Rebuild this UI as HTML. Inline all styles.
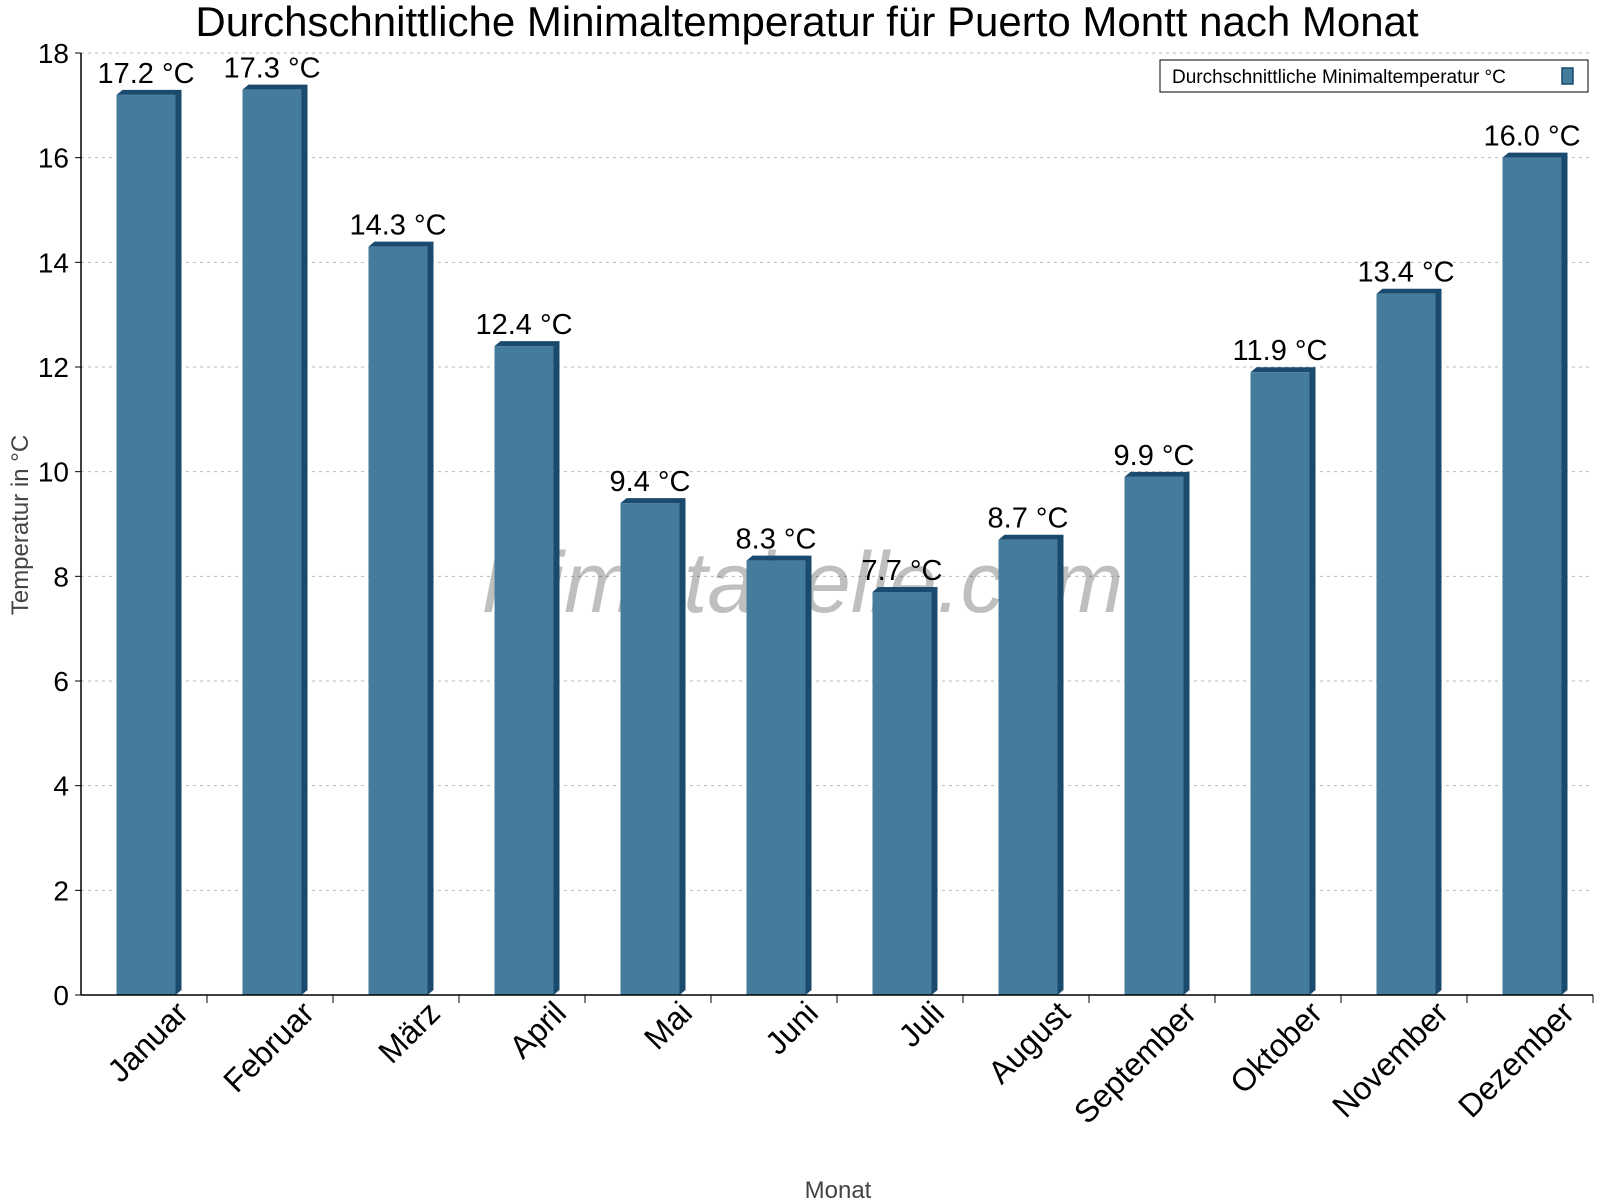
<!DOCTYPE html>
<html><head><meta charset="utf-8"><style>body{margin:0;background:#fff}svg{display:block;font-family:"Liberation Sans",Arial,sans-serif}</style></head>
<body>
<svg id="chart" width="1600" height="1200" viewBox="0 0 1600 1200" xmlns="http://www.w3.org/2000/svg">
<text x="807" y="36" font-size="42" text-anchor="middle" fill="#000">Durchschnittliche Minimaltemperatur für Puerto Montt nach Monat</text>
<g id="grid"></g>
<text x="803" y="612" font-size="86" font-style="italic" text-anchor="middle" fill="#000" fill-opacity="0.25">klimatabelle.com</text>
<g id="bars"></g>
<g id="axes"></g>
<text transform="translate(28,525) rotate(-90)" font-size="24" text-anchor="middle" fill="#444">Temperatur in °C</text>
<text x="838" y="1198" font-size="24" text-anchor="middle" fill="#444">Monat</text>
<g>
<rect x="1160" y="60" width="428" height="32" fill="#fff" stroke="#000" stroke-width="1"/>
<text x="1172" y="83" font-size="19" fill="#000">Durchschnittliche Minimaltemperatur °C</text>
<rect x="1562" y="68" width="11" height="16" fill="#457b9d" stroke="#1a4a6e" stroke-width="1.5"/>
</g>
</svg>
<script>
const categories=["Januar","Februar","März","April","Mai","Juni","Juli","August","September","Oktober","November","Dezember"];
const values=[17.2,17.3,14.3,12.4,9.4,8.3,7.7,8.7,9.9,11.9,13.4,16.0];
const yTicks=[0,2,4,6,8,10,12,14,16,18];
const NS="http://www.w3.org/2000/svg";
const X0=81,X1=1593,Y0=995,Y1=53,YMAX=18;
const cw=(X1-X0)/categories.length;
const y=v=>Y0-(v/YMAX)*(Y0-Y1);
const xc=i=>X0+cw*(i+0.5);
function mk(tag,attrs,parent){const e=document.createElementNS(NS,tag);for(const k in attrs)e.setAttribute(k,attrs[k]);parent.appendChild(e);return e;}
const grid=document.getElementById('grid'),bars=document.getElementById('bars'),axes=document.getElementById('axes');
yTicks.forEach(t=>{
  if(t>0){const l=mk('line',{x1:X0,x2:X1,y1:y(t),y2:y(t),stroke:'#bbb','stroke-dasharray':'3,4'},grid);
  
  }
  mk('line',{x1:X0-6,x2:X0,y1:y(t),y2:y(t),stroke:'#000'},axes);
  const tx=mk('text',{x:X0-12,y:y(t)+10,'font-size':28,'text-anchor':'end',fill:'#000'},axes);
  tx.textContent=t;
  
  
});
mk('line',{x1:X0,x2:X0,y1:Y1,y2:Y0,stroke:'#000','stroke-width':1.5},axes);
mk('line',{x1:X0,x2:X1,y1:Y0,y2:Y0,stroke:'#000','stroke-width':1.5},axes);
const bw=59,d=6;
categories.forEach((c,i)=>{
  const cx=xc(i)+2,x=cx-bw/2,top=y(values[i]);
  const g=mk('g',{},bars);
  
  
  mk('polygon',{points:`${x},${top} ${x+d},${top-5} ${x+bw+d},${top-5} ${x+bw+d},${Y0-5} ${x+bw},${Y0} ${x+bw},${top}`,fill:'#1a4a6e'},g);
  mk('rect',{x:x,y:top,width:bw,height:Y0-top,fill:'#457b9d'},g);
  const lb=mk('text',{x:cx,y:top-12,'font-size':29,'text-anchor':'middle',fill:'#000'},bars);
  lb.textContent=values[i].toFixed(1)+' °C';
  
  
  const tk=X0+cw*(i+1);
  mk('line',{x1:tk,x2:tk,y1:Y0,y2:Y0+8,stroke:'#000'},axes);
  const xl=mk('text',{transform:`translate(${xc(i)+46},${Y0+20}) rotate(-45)`,'font-size':32,'text-anchor':'end',fill:'#000'},axes);
  xl.textContent=c;
  
  
});
</script>
</body></html>
